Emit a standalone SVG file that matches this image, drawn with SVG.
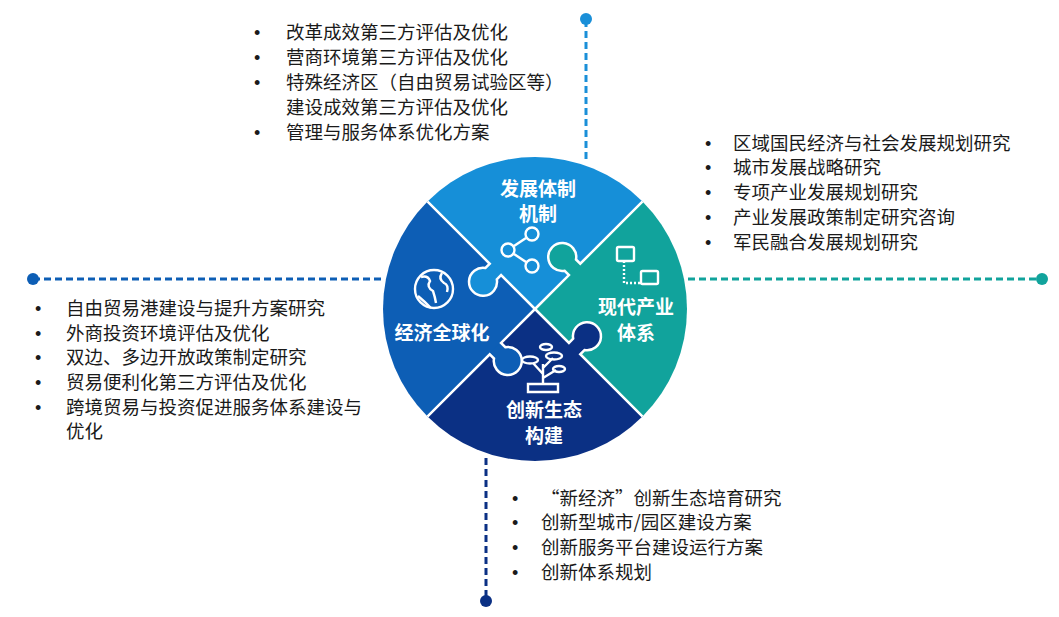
<svg xmlns="http://www.w3.org/2000/svg" width="1059" height="617" viewBox="0 0 1059 617">
<style>
.t{font-family:"Noto Sans CJK SC","Liberation Sans",sans-serif;font-size:18.5px;fill:#1a1a1a}
.d{font-family:"Liberation Sans",sans-serif;font-size:18px;fill:#1a1a1a}
.c{font-family:"Noto Sans CJK SC","Liberation Sans",sans-serif;font-size:19px;font-weight:bold;fill:#fff;text-anchor:middle}
.b{stroke:#fff;stroke-width:2.5;fill:none}
.i{stroke:#fff;stroke-width:2.4;fill:none}
</style>
<defs>
<path id="kb" d="M0,0 L48,0 L48,-6 A14,14 0 1 1 64,-6 L64,0 L160,0"/>
<path id="kf" d="M47,1 L48,-6 A14,14 0 1 1 64,-6 L65,1 Z"/>
</defs>
<g id="connectors" stroke-width="3" stroke-dasharray="7,4">
<line x1="586" y1="20" x2="586" y2="160" stroke="#1a8fd8"/>
<line x1="33" y1="279" x2="385" y2="279" stroke="#0d5eb5"/>
<line x1="688" y1="279" x2="1042" y2="279" stroke="#11a39c"/>
<line x1="486" y1="458" x2="486" y2="600" stroke="#0b3084"/>
<circle cx="586" cy="19" r="6" fill="#1a8fd8" stroke="none"/>
<circle cx="33" cy="279" r="6" fill="#0d5eb5" stroke="none"/>
<circle cx="1042" cy="279" r="6" fill="#11a39c" stroke="none"/>
<circle cx="486" cy="601" r="6" fill="#0b3084" stroke="none"/>
</g>
<g id="puzzle">
<clipPath id="cc"><circle cx="535" cy="309" r="152"/></clipPath>
<g clip-path="url(#cc)">
<path d="M535,309 L350,124 L720,124 Z" fill="#168fd8"/>
<path d="M535,309 L720,124 L720,494 Z" fill="#11a39c"/>
<path d="M535,309 L720,494 L350,494 Z" fill="#0b3084"/>
<path d="M535,309 L350,494 L350,124 Z" fill="#0d5eb5"/>
<g transform="translate(535,309)">
<use href="#kf" transform="rotate(225)" fill="#168fd8"/>
<use href="#kf" transform="rotate(315)" fill="#11a39c"/>
<use href="#kf" transform="rotate(135)" fill="#0d5eb5"/>
<use href="#kf" transform="rotate(45)" fill="#0b3084"/>
<use href="#kb" transform="rotate(225)" class="b"/>
<use href="#kb" transform="rotate(315)" class="b"/>
<use href="#kb" transform="rotate(135)" class="b"/>
<use href="#kb" transform="rotate(45)" class="b"/>
</g>
</g>
</g>
<g id="node-top">
<text class="c" x="538" y="196">发展体制</text>
<text class="c" x="538" y="221">机制</text>
<g class="i"><circle cx="532" cy="234" r="6.5"/><circle cx="508" cy="250" r="6.5"/><circle cx="532" cy="266" r="6.5"/><line x1="514" y1="246" x2="526" y2="238"/><line x1="514" y1="254" x2="526" y2="262"/></g>
</g>
<g id="node-right">
<text class="c" x="636" y="314">现代产业</text>
<text class="c" x="636" y="340">体系</text>
<g class="i" stroke-width="2"><rect x="617" y="247" width="17" height="14" rx="1.5"/><rect x="641" y="271" width="17" height="13" rx="1.5"/><path d="M624,261 V283 H640" stroke-dasharray="2,2"/></g>
</g>
<g id="node-left">
<text class="c" x="442" y="340">经济全球化</text>
<g class="i"><circle cx="434" cy="289" r="19"/><path d="M421,277 q7,-2 9,4 q-4,6 3,10 q2,6 3,12 M442,273 q-4,6 2,10 q5,2 3,9 M418,296 q6,5 13,12"/></g>
</g>
<g id="node-bottom">
<text class="c" x="544" y="417">创新生态</text>
<text class="c" x="544" y="443">构建</text>
<g class="i" stroke-width="2"><path d="M528,384 H558 V392 H528 Z M543,384 V364 M543,374 L533,363 M543,368 L553,358 M543,378 L556,370"/><ellipse cx="530" cy="360" rx="8" ry="3.5"/><ellipse cx="554" cy="356" rx="8" ry="3.5"/><ellipse cx="559" cy="369" rx="6" ry="3"/><ellipse cx="546" cy="347" rx="6" ry="3"/></g>
</g>
<g id="list-top">
<g class="d"><text x="254" y="39">•</text><text x="254" y="64">•</text><text x="254" y="89">•</text><text x="254" y="139">•</text></g>
<g class="t"><text x="286" y="39">改革成效第三方评估及优化</text>
<text x="286" y="64">营商环境第三方评估及优化</text>
<text x="286" y="89">特殊经济区（自由贸易试验区等）</text>
<text x="286" y="114">建设成效第三方评估及优化</text>
<text x="286" y="139">管理与服务体系优化方案</text></g>
</g>
<g id="list-right">
<g class="d"><text x="705" y="150">•</text><text x="705" y="174">•</text><text x="705" y="199">•</text><text x="705" y="224">•</text><text x="705" y="249">•</text></g>
<g class="t"><text x="733" y="150">区域国民经济与社会发展规划研究</text>
<text x="733" y="174">城市发展战略研究</text>
<text x="733" y="199">专项产业发展规划研究</text>
<text x="733" y="224">产业发展政策制定研究咨询</text>
<text x="733" y="249">军民融合发展规划研究</text></g>
</g>
<g id="list-left">
<g class="d"><text x="35" y="315">•</text><text x="35" y="340">•</text><text x="35" y="364">•</text><text x="35" y="389">•</text><text x="35" y="414">•</text></g>
<g class="t"><text x="66" y="315">自由贸易港建设与提升方案研究</text>
<text x="66" y="340">外商投资环境评估及优化</text>
<text x="66" y="364">双边、多边开放政策制定研究</text>
<text x="66" y="389">贸易便利化第三方评估及优化</text>
<text x="66" y="414">跨境贸易与投资促进服务体系建设与</text>
<text x="66" y="438">优化</text></g>
</g>
<g id="list-bottom">
<g class="d"><text x="512" y="505">•</text><text x="512" y="529">•</text><text x="512" y="554">•</text><text x="512" y="579">•</text></g>
<g class="t"><text x="541" y="505">“新经济”创新生态培育研究</text>
<text x="541" y="529">创新型城市/园区建设方案</text>
<text x="541" y="554">创新服务平台建设运行方案</text>
<text x="541" y="579">创新体系规划</text></g>
</g>
</svg>
